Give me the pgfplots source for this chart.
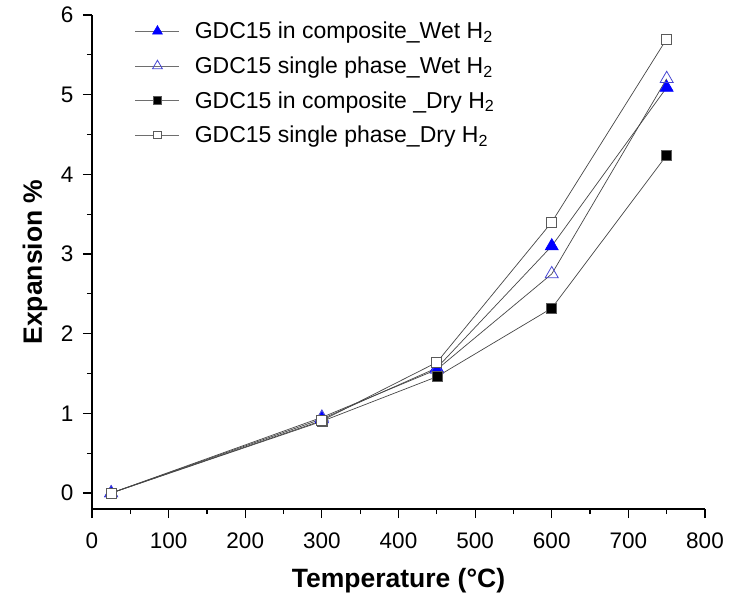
\documentclass[border=0pt]{standalone}
\usepackage{fontspec}
\setmainfont{Liberation Sans}
\usepackage{pgfplots}
\pgfplotsset{compat=1.18}
\definecolor{wetblue}{RGB}{0,0,255}
\definecolor{openblue}{RGB}{70,70,210}
\definecolor{sqgray}{RGB}{90,90,90}
\definecolor{linegray}{RGB}{70,70,70}
\definecolor{leggray}{RGB}{110,110,110}
\begin{document}
\begin{tikzpicture}
\begin{axis}[
  scale only axis,
  width=613bp, height=494bp,
  xmin=0, xmax=800, ymin=-0.2, ymax=6,
  axis x line*=bottom, axis y line*=left,
  axis line style={line width=1.4bp, black},
  xtick={0,100,...,800}, ytick={0,1,...,6},
  minor x tick num=1, minor y tick num=1,
  tick align=outside,
  major tick length=9bp, minor tick length=5bp,
  every tick/.style={line width=1.2bp, black},
  /pgf/number format/assume math mode=true,
  tick label style={font=\fontsize{22.5bp}{27bp}\selectfont},
  xticklabel style={yshift=-11bp},
  yticklabel style={xshift=-6bp},
  xlabel={\bfseries Temperature (°C)},
  ylabel={\bfseries Expansion \%},
  label style={font=\fontsize{26.5bp}{30bp}\selectfont},
  xlabel style={at={(axis description cs:0.5,-0.158)}, anchor=base},
  ylabel style={at={(axis description cs:-0.0816,0.5)}, anchor=base, rotate=0},
  legend style={draw=none, fill=none, at={(axis description cs:0.07,0.99)}, anchor=north west,
    font=\fontsize{23bp}{27bp}\selectfont, row sep=12.5bp, column sep=13bp, inner sep=0pt},
  legend cell align=left,
  legend image code/.code={\draw[leggray,mark repeat=2,mark phase=2,every mark/.append style={scale=0.75}] plot coordinates {(0bp,0bp) (22bp,0bp) (44bp,0bp)};},
]
\addplot[color=linegray, line width=0.7bp, mark=triangle*, mark size=7.5bp,
  mark options={draw=wetblue, fill=wetblue, line width=0.6bp}]
  coordinates {(25,0) (300,0.93) (450,1.57) (600,3.10) (750,5.09)};
\addlegendentry{GDC15 in composite\_Wet H\textsubscript{2}}
\addplot[color=linegray, line width=0.7bp, mark=triangle, mark size=7.5bp,
  mark options={draw=openblue, fill=white, line width=0.8bp}]
  coordinates {(25,0) (300,0.95) (450,1.55) (600,2.75) (750,5.20)};
\addlegendentry{GDC15 single phase\_Wet H\textsubscript{2}}
\addplot[color=linegray, line width=0.7bp, mark=square*, mark size=5bp,
  mark options={draw=sqgray, fill=black, line width=0.6bp}]
  coordinates {(25,0) (300,0.90) (450,1.46) (600,2.32) (750,4.24)};
\addlegendentry{GDC15 in composite \_Dry H\textsubscript{2}}
\addplot[color=linegray, line width=0.7bp, mark=square*, mark size=5bp,
  mark options={draw=sqgray, fill=white, line width=0.8bp}]
  coordinates {(25,0) (300,0.91) (450,1.64) (600,3.40) (750,5.70)};
\addlegendentry{GDC15 single phase\_Dry H\textsubscript{2}}
\end{axis}
\path (current axis.south west) ++(-92bp,-87bp) rectangle ++(734bp,596bp);
\end{tikzpicture}
\end{document}
